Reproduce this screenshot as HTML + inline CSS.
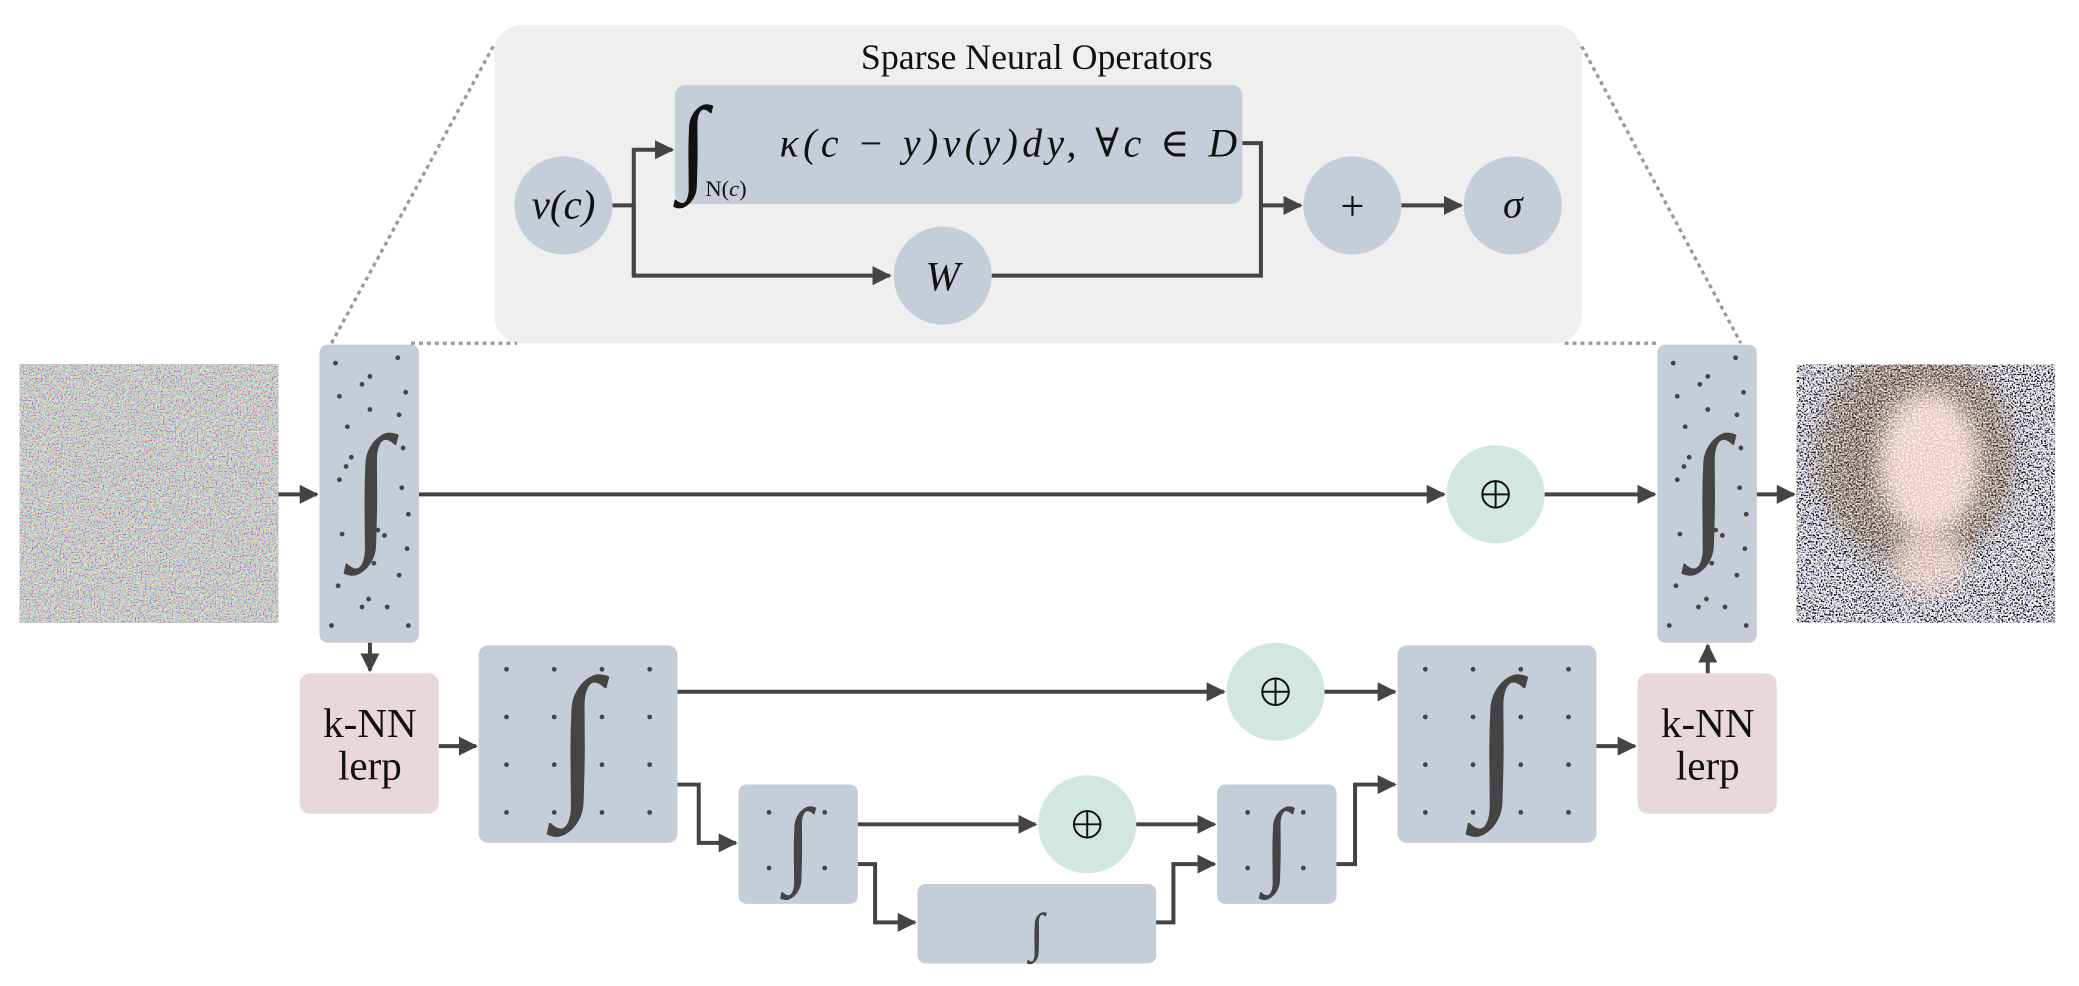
<!DOCTYPE html>
<html><head><meta charset="utf-8"><style>
html,body{margin:0;padding:0;background:#fff;}
svg{display:block;}
text{font-family:"Liberation Serif","DejaVu Serif",serif;}
</style></head><body>
<svg width="2079" height="986" viewBox="0 0 1568 744" preserveAspectRatio="none" xmlns="http://www.w3.org/2000/svg">
<defs>
<marker id="ah" viewBox="0 0 10 10" refX="9" refY="5" markerWidth="4.8" markerHeight="4.8" orient="auto" markerUnits="strokeWidth"><path d="M0,0 L10,5 L0,10 z" fill="#444"/></marker>
<filter id="n1" x="0" y="0" width="100%" height="100%">
<feTurbulence type="fractalNoise" baseFrequency="0.9" numOctaves="1" seed="3" result="t"/>
<feColorMatrix in="t" type="matrix" values="2.6 -0.8 -0.8 0 0.0  -0.8 2.6 -0.8 0 0.0  -0.8 -0.8 2.6 0 0.0  0 0 0 0 1"/>
</filter>
<filter id="n2" x="0" y="0" width="100%" height="100%">
<feTurbulence type="fractalNoise" baseFrequency="0.8" numOctaves="1" seed="7" result="t"/>
<feColorMatrix in="t" type="matrix" values="6 0 0 0 -2.6  6 0 0 0 -2.6  6 0 0 0 -2.5  0 0 0 0 1"/>
</filter>
<filter id="n3" x="0" y="0" width="100%" height="100%">
<feTurbulence type="fractalNoise" baseFrequency="0.8" numOctaves="1" seed="11" result="t"/>
<feColorMatrix in="t" type="matrix" values="0 0 0 0 1  0 0 0 0 1  0 0 0 0 1  6 0 0 0 -2.7"/>
</filter>
<filter id="bl"><feGaussianBlur stdDeviation="8"/></filter>
<clipPath id="c2"><rect x="1355" y="275" width="195" height="195"/></clipPath>
</defs>
<rect x="373" y="19" width="820" height="240" rx="20" fill="#efefef"/>
<g stroke="#999" stroke-width="2.5" stroke-dasharray="3,3" fill="none">
<line x1="372" y1="35" x2="250" y2="259"/>
<line x1="310" y1="259" x2="390" y2="259"/>
<line x1="1193" y1="35" x2="1313" y2="259"/>
<line x1="1180" y1="259" x2="1250" y2="259"/>
</g>
<text x="782" y="52" font-size="27" text-anchor="middle" fill="#111">Sparse Neural Operators</text>
<rect x="509" y="64" width="428" height="90" rx="8" fill="#c5cdd9"/>
<text x="512" y="136" font-size="80" font-style="italic" fill="#111">∫</text>
<text x="532" y="148" font-size="17" fill="#111">N(<tspan font-style="italic">c</tspan>)</text>
<text x="588" y="118" font-size="30" font-style="italic" fill="#111" textLength="345" lengthAdjust="spacing">κ(c − y)v(y)dy, ∀c ∈ D</text>
<g fill="#c5cdd9">
<circle cx="425" cy="155" r="37"/><circle cx="711" cy="208" r="37"/>
<circle cx="1020" cy="155" r="37"/><circle cx="1141" cy="155" r="37"/>
</g>
<text x="425" y="165" font-size="31" font-style="italic" text-anchor="middle" fill="#111">v(c)</text>
<text x="711" y="219" font-size="31" font-style="italic" text-anchor="middle" fill="#111">W</text>
<text x="1020" y="166" font-size="32" text-anchor="middle" fill="#111">+</text>
<text x="1141" y="164" font-size="30" font-style="italic" text-anchor="middle" fill="#111">σ</text>
<g fill="none" stroke="#444" stroke-width="3">
<polyline points="462,155 478,155"/>
<polyline points="478,208 478,113 507,113" marker-end="url(#ah)"/>
<polyline points="478,155 478,208 671,208" marker-end="url(#ah)"/>
<polyline points="748,208 951,208 951,108 937,108"/>
<polyline points="951,155 981,155" marker-end="url(#ah)"/>
<polyline points="1057,155 1102,155" marker-end="url(#ah)"/>
</g>
<rect x="15" y="275" width="195" height="195" fill="#fff"/>
<rect x="15" y="275" width="195" height="195" filter="url(#n1)" opacity="0.7"/>
<g clip-path="url(#c2)">
<rect x="1355" y="275" width="195" height="195" filter="url(#n2)"/>
<ellipse cx="1445" cy="345" rx="75" ry="85" fill="#5e3f25" opacity="0.6" filter="url(#bl)"/>
<ellipse cx="1455" cy="350" rx="38" ry="55" fill="#f0cfc3" opacity="0.95" filter="url(#bl)"/>
<ellipse cx="1455" cy="425" rx="28" ry="25" fill="#ecc8bb" opacity="0.8" filter="url(#bl)"/>
<rect x="1355" y="275" width="195" height="195" filter="url(#n3)" opacity="0.8"/>
</g>
<g fill="#c5cdd9">
<rect x="241" y="260" width="75" height="225" rx="6"/>
<rect x="1250" y="260" width="75" height="225" rx="6"/>
<rect x="361" y="487" width="150" height="149" rx="7"/>
<rect x="1054" y="487" width="150" height="149" rx="7"/>
<rect x="557" y="592" width="90" height="90" rx="6"/>
<rect x="918" y="592" width="90" height="90" rx="6"/>
<rect x="692" y="667" width="180" height="60" rx="6"/>
</g>
<g fill="#e8d8d8"><rect x="226" y="508" width="105" height="106" rx="8"/><rect x="1235" y="508" width="105" height="106" rx="8"/></g>
<g font-size="31" fill="#111" text-anchor="middle">
<text x="279" y="556">k-NN</text><text x="279" y="588">lerp</text>
<text x="1288" y="556">k-NN</text><text x="1288" y="588">lerp</text>
</g>
<g fill="#d3e7e2"><circle cx="1128" cy="373" r="37"/><circle cx="962" cy="522" r="37"/><circle cx="820" cy="622" r="37"/></g>
<g fill="none" stroke="#111" stroke-width="1.5">
<circle cx="1128" cy="373" r="10"/><path d="M1118,373h20M1128,363v20"/>
<circle cx="962" cy="522" r="10"/><path d="M952,522h20M962,512v20"/>
<circle cx="820" cy="622" r="10"/><path d="M810,622h20M820,612v20"/>
</g>
<g fill="#444" font-style="italic" text-anchor="middle">
<text x="280" y="405" font-size="110">∫</text>
<text x="1289" y="405" font-size="110">∫</text>
<text x="436" y="598" font-size="125">∫</text>
<text x="1129" y="598" font-size="125">∫</text>
<text x="602" y="660" font-size="72">∫</text>
<text x="963" y="660" font-size="72">∫</text>
<text x="782" y="717" font-size="40">∫</text>
</g>
<g fill="#444">
<circle cx="253" cy="274" r="1.8"/><circle cx="300" cy="270" r="1.8"/><circle cx="279" cy="284" r="1.8"/><circle cx="273" cy="290" r="1.8"/>
<circle cx="256" cy="299" r="1.8"/><circle cx="306" cy="296" r="1.8"/><circle cx="279" cy="309" r="1.8"/><circle cx="301" cy="313" r="1.8"/>
<circle cx="262" cy="322" r="1.8"/><circle cx="304" cy="338" r="1.8"/><circle cx="265" cy="345" r="1.8"/><circle cx="261" cy="352" r="1.8"/>
<circle cx="256" cy="362" r="1.8"/><circle cx="303" cy="368" r="1.8"/><circle cx="308" cy="388" r="1.8"/><circle cx="285" cy="400" r="1.8"/>
<circle cx="290" cy="404" r="1.8"/><circle cx="258" cy="403" r="1.8"/><circle cx="307" cy="414" r="1.8"/><circle cx="282" cy="425" r="1.8"/>
<circle cx="301" cy="434" r="1.8"/><circle cx="255" cy="442" r="1.8"/><circle cx="278" cy="452" r="1.8"/><circle cx="273" cy="458" r="1.8"/>
<circle cx="292" cy="458" r="1.8"/><circle cx="250" cy="472" r="1.8"/><circle cx="308" cy="472" r="1.8"/>
<circle cx="1262" cy="274" r="1.8"/><circle cx="1309" cy="270" r="1.8"/><circle cx="1288" cy="284" r="1.8"/><circle cx="1282" cy="290" r="1.8"/>
<circle cx="1265" cy="299" r="1.8"/><circle cx="1315" cy="296" r="1.8"/><circle cx="1288" cy="309" r="1.8"/><circle cx="1310" cy="313" r="1.8"/>
<circle cx="1271" cy="322" r="1.8"/><circle cx="1313" cy="338" r="1.8"/><circle cx="1274" cy="345" r="1.8"/><circle cx="1270" cy="352" r="1.8"/>
<circle cx="1265" cy="362" r="1.8"/><circle cx="1312" cy="368" r="1.8"/><circle cx="1317" cy="388" r="1.8"/><circle cx="1294" cy="400" r="1.8"/>
<circle cx="1299" cy="404" r="1.8"/><circle cx="1267" cy="403" r="1.8"/><circle cx="1316" cy="414" r="1.8"/><circle cx="1291" cy="425" r="1.8"/>
<circle cx="1310" cy="434" r="1.8"/><circle cx="1264" cy="442" r="1.8"/><circle cx="1287" cy="452" r="1.8"/><circle cx="1281" cy="458" r="1.8"/>
<circle cx="1301" cy="458" r="1.8"/><circle cx="1259" cy="472" r="1.8"/><circle cx="1317" cy="472" r="1.8"/>
</g>
<g fill="#444">
<circle cx="382" cy="505" r="1.8"/><circle cx="418" cy="505" r="1.8"/><circle cx="454" cy="505" r="1.8"/><circle cx="490" cy="505" r="1.8"/>
<circle cx="382" cy="541" r="1.8"/><circle cx="418" cy="541" r="1.8"/><circle cx="454" cy="541" r="1.8"/><circle cx="490" cy="541" r="1.8"/>
<circle cx="382" cy="577" r="1.8"/><circle cx="418" cy="577" r="1.8"/><circle cx="454" cy="577" r="1.8"/><circle cx="490" cy="577" r="1.8"/>
<circle cx="382" cy="613" r="1.8"/><circle cx="418" cy="613" r="1.8"/><circle cx="454" cy="613" r="1.8"/><circle cx="490" cy="613" r="1.8"/>
<circle cx="1075" cy="505" r="1.8"/><circle cx="1111" cy="505" r="1.8"/><circle cx="1147" cy="505" r="1.8"/><circle cx="1183" cy="505" r="1.8"/>
<circle cx="1075" cy="541" r="1.8"/><circle cx="1111" cy="541" r="1.8"/><circle cx="1147" cy="541" r="1.8"/><circle cx="1183" cy="541" r="1.8"/>
<circle cx="1075" cy="577" r="1.8"/><circle cx="1111" cy="577" r="1.8"/><circle cx="1147" cy="577" r="1.8"/><circle cx="1183" cy="577" r="1.8"/>
<circle cx="1075" cy="613" r="1.8"/><circle cx="1111" cy="613" r="1.8"/><circle cx="1147" cy="613" r="1.8"/><circle cx="1183" cy="613" r="1.8"/>
<circle cx="580" cy="613" r="1.8"/><circle cx="622" cy="613" r="1.8"/><circle cx="580" cy="655" r="1.8"/><circle cx="622" cy="655" r="1.8"/>
<circle cx="941" cy="613" r="1.8"/><circle cx="983" cy="613" r="1.8"/><circle cx="941" cy="655" r="1.8"/><circle cx="983" cy="655" r="1.8"/>
</g>
<g fill="none" stroke="#444" stroke-width="3">
<line x1="210" y1="373" x2="239" y2="373" marker-end="url(#ah)"/>
<line x1="316" y1="373" x2="1089" y2="373" marker-end="url(#ah)"/>
<line x1="1165" y1="373" x2="1248" y2="373" marker-end="url(#ah)"/>
<line x1="1325" y1="373" x2="1353" y2="373" marker-end="url(#ah)"/>
<line x1="279" y1="485" x2="279" y2="506" marker-end="url(#ah)"/>
<line x1="1288" y1="508" x2="1288" y2="487" marker-end="url(#ah)"/>
<line x1="331" y1="563" x2="359" y2="563" marker-end="url(#ah)"/>
<line x1="1204" y1="563" x2="1233" y2="563" marker-end="url(#ah)"/>
<line x1="511" y1="522" x2="923" y2="522" marker-end="url(#ah)"/>
<line x1="999" y1="522" x2="1052" y2="522" marker-end="url(#ah)"/>
<polyline points="511,592 527,592 527,636 555,636" marker-end="url(#ah)"/>
<line x1="647" y1="622" x2="781" y2="622" marker-end="url(#ah)"/>
<line x1="857" y1="622" x2="916" y2="622" marker-end="url(#ah)"/>
<polyline points="647,652 660,652 660,696 690,696" marker-end="url(#ah)"/>
<polyline points="872,696 885,696 885,652 916,652" marker-end="url(#ah)"/>
<polyline points="1008,652 1022,652 1022,592 1052,592" marker-end="url(#ah)"/>
</g>
</svg>
</body></html>
